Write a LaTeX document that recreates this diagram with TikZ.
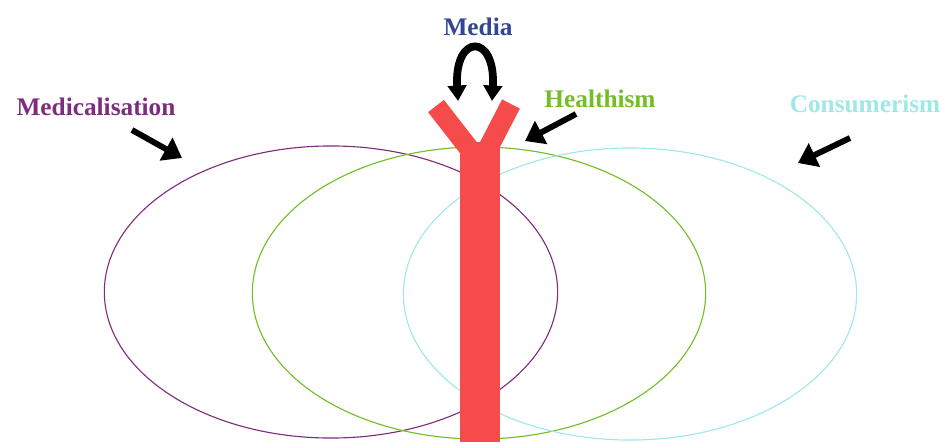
\documentclass[tikz,border=0pt]{standalone}
\usepackage{fontspec}
\setmainfont{Liberation Serif}
\usetikzlibrary{shapes.geometric, arrows.meta, positioning}
\definecolor{medpurple}{RGB}{125, 45, 125}
\definecolor{healthgreen}{RGB}{115, 190, 40}
\definecolor{consumcyan}{RGB}{160, 232, 232}
\definecolor{mediablue}{RGB}{50, 70, 150}
\definecolor{stemred}{RGB}{245, 75, 75}

\begin{document}
\begin{tikzpicture}[
    x=0.025cm, y=-0.025cm,
    ring/.style={ellipse, draw, line width=0.8pt, inner sep=0pt, minimum width=11.33cm, minimum height=7.3cm},
    label/.style={font=\fontsize{18}{20}\selectfont\bfseries, inner sep=0pt},
    pointer/.style={-{Triangle[width=18pt, length=13pt]}, line width=4.2pt, black},
    arm/.style={stemred, line width=0.5cm}
]
    \useasboundingbox (0,0) rectangle (950,442);

    % the three discourses
    \node[ring, draw=medpurple] (medring) at (331,292) {};
    \node[ring, draw=healthgreen] (healthring) at (479,293) {};
    \node[ring, draw=consumcyan] (consumring) at (630,294) {};

    % the media channel
    \draw[arm] (436,106) -- (478,160);
    \draw[arm] (511,104) -- (482,160);
    \fill[stemred] (460,142) rectangle (500,442);

    % labels
    \node[label, text=mediablue] (media) at (478,27) {Media};
    \node[label, text=medpurple] (med) at (96,107) {Medicalisation};
    \node[label, text=healthgreen] (health) at (600,99) {Healthism};
    \node[label, text=consumcyan] (consum) at (865,104) {Consumerism};

    % pointers
    \coordinate (medtail) at (132,130);
    \coordinate (medhead) at (182,158);
    \coordinate (healthtail) at (576,114);
    \coordinate (healthhead) at (525,141);
    \coordinate (consumtail) at (850,138);
    \coordinate (consumhead) at (798,163);
    \coordinate (loopleft) at (458,101);
    \coordinate (loopright) at (492,101);

    \draw[pointer] (medtail) -- (medhead);
    \draw[pointer] (healthtail) -- (healthhead);
    \draw[pointer] (consumtail) -- (consumhead);
    \draw[{Triangle[width=13pt, length=11pt]}-{Triangle[width=13pt, length=11pt]}, line width=5.5pt]
        (loopleft) .. controls (454,33) and (496,33) .. (loopright);
\end{tikzpicture}
\end{document}
